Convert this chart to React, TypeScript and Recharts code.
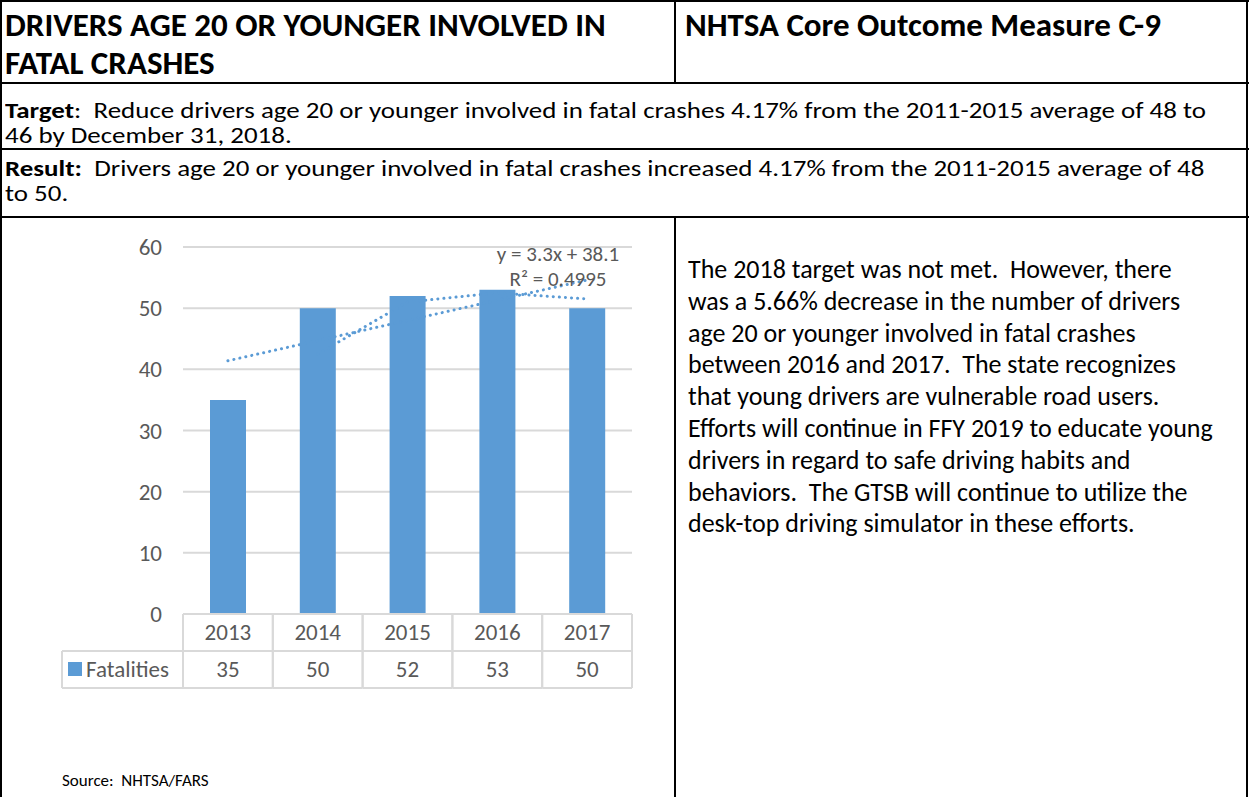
import React from "react";
import { ComposedChart, Bar, Line, XAxis, YAxis, CartesianGrid } from "recharts";

// values
const years = ["2013", "2014", "2015", "2016", "2017"];
const fatalities = [35, 50, 52, 53, 50];
const linearTrend = [41.4, 44.7, 48.0, 51.3, 54.6];
const movingAvg: (number | null)[] = [null, 42.5, 51, 52.5, 51.5];
const yTicks = [0, 10, 20, 30, 40, 50, 60];

const data = years.map((year, i) => ({
  year,
  fatalities: fatalities[i],
  trend: linearTrend[i],
  avg: movingAvg[i],
}));

const FONT = "Carlito, Calibri, Lato, 'Open Sans', sans-serif";
const BLUE = "#5B9BD5";
const GRAY_TEXT = "#595959";
const GRID = "#D9D9D9";

const CHART_W = 660;
const CHART_H = 470;
const PLOT_LEFT = 183;
const PLOT_RIGHT = 632;
const BAND = (PLOT_RIGHT - PLOT_LEFT) / years.length;
const ROW_H = 37;
const CHART_FS = 23;

function TableTick(props: any) {
  const { x, y, payload, index } = props;
  const left = x - BAND / 2;
  const right = x + BAND / 2;
  const i = index ?? years.indexOf(payload.value);
  return (
    <g>
      <line x1={left} y1={y} x2={left} y2={y + ROW_H * 2} stroke={GRID} strokeWidth={2} />
      <line x1={right} y1={y} x2={right} y2={y + ROW_H * 2} stroke={GRID} strokeWidth={2} />
      <line x1={left} y1={y + ROW_H} x2={right} y2={y + ROW_H} stroke={GRID} strokeWidth={2} />
      <line x1={left} y1={y + ROW_H * 2} x2={right} y2={y + ROW_H * 2} stroke={GRID} strokeWidth={2} />
      <text x={x} y={y + 18} textAnchor="middle" dominantBaseline="central" fill={GRAY_TEXT} fontSize={CHART_FS} fontFamily={FONT}>
        {payload.value}
      </text>
      <text x={x} y={y + ROW_H + 18} textAnchor="middle" dominantBaseline="central" fill={GRAY_TEXT} fontSize={CHART_FS} fontFamily={FONT}>
        {fatalities[i]}
      </text>
      {i === 0 && (
        <g>
          <line x1={62} y1={y + ROW_H} x2={left} y2={y + ROW_H} stroke={GRID} strokeWidth={2} />
          <line x1={62} y1={y + ROW_H * 2} x2={left} y2={y + ROW_H * 2} stroke={GRID} strokeWidth={2} />
          <line x1={62} y1={y + ROW_H} x2={62} y2={y + ROW_H * 2} stroke={GRID} strokeWidth={2} />
          <rect x={68} y={y + ROW_H + 11} width={14} height={14} fill={BLUE} />
          <text x={86} y={y + ROW_H + 18} dominantBaseline="central" fill={GRAY_TEXT} fontSize={CHART_FS} fontFamily={FONT}>
            Fatalities
          </text>
        </g>
      )}
    </g>
  );
}

function HLine({ top, left = 0, width = 1249 }: { top: number; left?: number; width?: number }) {
  return <div style={{ position: "absolute", top, left, width, height: 2, background: "#000" }} />;
}

function VLine({ left, top, height }: { left: number; top: number; height: number }) {
  return <div style={{ position: "absolute", top, left, width: 2, height, background: "#000" }} />;
}

// the reference body text is wide for its height, so it is stretched sideways
const bodyText: React.CSSProperties = {
  position: "absolute",
  left: 5,
  fontFamily: FONT,
  fontSize: 22,
  lineHeight: "25px",
  color: "#000",
  whiteSpace: "nowrap",
  transform: "scaleX(1.225)",
  transformOrigin: "0 0",
};

const titleText: React.CSSProperties = {
  position: "absolute",
  top: 6,
  fontSize: 33,
  fontWeight: 700,
  lineHeight: "38px",
  whiteSpace: "nowrap",
};

const paragraph = [
  "The 2018 target was not met.  However, there",
  "was a 5.66% decrease in the number of drivers",
  "age 20 or younger involved in fatal crashes",
  "between 2016 and 2017.  The state recognizes",
  "that young drivers are vulnerable road users.",
  "Efforts will continue in FFY 2019 to educate young",
  "drivers in regard to safe driving habits and",
  "behaviors.  The GTSB will continue to utilize the",
  "desk-top driving simulator in these efforts.",
];

export default function App() {
  return (
    <div
      style={{
        position: "absolute",
        left: 0,
        top: 0,
        width: 1249,
        height: 797,
        background: "#fff",
        overflow: "hidden",
        fontFamily: FONT,
      }}
    >
      {/* table borders */}
      <HLine top={0} />
      <VLine left={0} top={0} height={797} />
      <VLine left={1246} top={0} height={797} />
      <HLine top={82} />
      <HLine top={148} />
      <HLine top={216} />
      <VLine left={674} top={0} height={83} />
      <VLine left={674} top={216} height={581} />

      {/* header row */}
      <div style={{ ...titleText, left: 5 }}>
        DRIVERS AGE 20 OR YOUNGER INVOLVED IN
        <br />
        FATAL CRASHES
      </div>
      <div style={{ ...titleText, left: 685 }}>NHTSA Core Outcome Measure C-9</div>

      <div style={{ ...bodyText, top: 98 }}>
        <b>Target</b>:&nbsp; Reduce drivers age 20 or younger involved in fatal crashes 4.17% from the 2011-2015 average of 48 to
        <br />
        46 by December 31, 2018.
      </div>
      <div style={{ ...bodyText, top: 156 }}>
        <b>Result:</b>&nbsp; Drivers age 20 or younger involved in fatal crashes increased 4.17% from the 2011-2015 average of 48
        <br />
        to 50.
      </div>

      {/* chart */}
      <div style={{ position: "absolute", left: 0, top: 220 }}>
        <ComposedChart
          width={CHART_W}
          height={CHART_H}
          data={data}
          margin={{ top: 27, right: CHART_W - PLOT_RIGHT, left: 0, bottom: 2 }}
        >
          <CartesianGrid vertical={false} stroke={GRID} strokeWidth={2} />
          <YAxis
            width={PLOT_LEFT}
            domain={[0, 60]}
            ticks={yTicks}
            axisLine={false}
            tickLine={false}
            tickSize={0}
            tickMargin={21}
            tick={{ fill: GRAY_TEXT, fontSize: CHART_FS, fontFamily: FONT }}
          />
          <XAxis
            dataKey="year"
            height={74}
            axisLine={{ stroke: GRID, strokeWidth: 2 }}
            tickLine={false}
            tickSize={0}
            tickMargin={0}
            tick={<TableTick />}
            interval={0}
          />
          <Bar dataKey="fatalities" fill={BLUE} barSize={36} isAnimationActive={false} />
          <Line
            dataKey="trend"
            stroke={BLUE}
            strokeWidth={3}
            strokeDasharray="0.1 6"
            strokeLinecap="round"
            dot={false}
            isAnimationActive={false}
          />
          <Line
            dataKey="avg"
            stroke={BLUE}
            strokeWidth={3}
            strokeDasharray="0.1 6"
            strokeLinecap="round"
            dot={false}
            connectNulls={false}
            isAnimationActive={false}
          />
        </ComposedChart>
      </div>

      {/* trendline equation */}
      <div
        style={{
          position: "absolute",
          left: 483,
          top: 242,
          width: 150,
          textAlign: "center",
          fontSize: 21,
          lineHeight: "25px",
          color: GRAY_TEXT,
          whiteSpace: "nowrap",
        }}
      >
        y = 3.3x + 38.1
        <br />
        R² = 0.4995
      </div>

      <div
        style={{
          position: "absolute",
          left: 62,
          top: 770,
          fontSize: 17,
          color: "#000",
          whiteSpace: "nowrap",
        }}
      >
        Source:&nbsp; NHTSA/FARS
      </div>

      <div
        style={{
          position: "absolute",
          left: 688,
          top: 254,
          fontSize: 26,
          lineHeight: "31.8px",
          color: "#000",
          whiteSpace: "pre",
        }}
      >
        {paragraph.join("\n")}
      </div>
    </div>
  );
}
